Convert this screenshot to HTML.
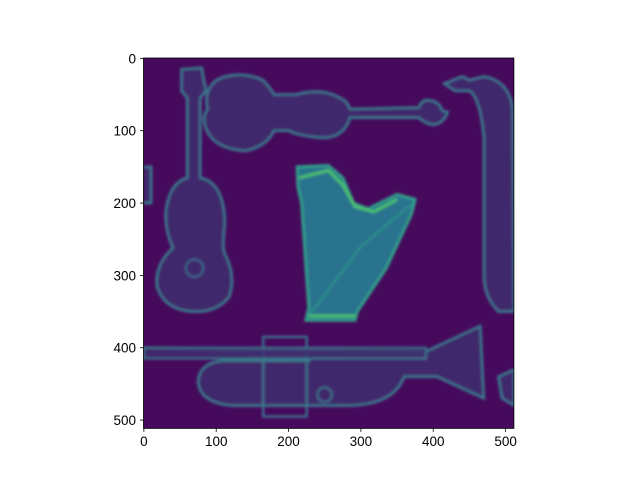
<!DOCTYPE html>
<html><head><meta charset="utf-8"><style>
body{margin:0;background:#fff;}
svg text{font-family:"Liberation Sans","DejaVu Sans",sans-serif;font-size:13.5px;fill:#000;}
</style></head><body>
<svg width="640" height="480" xmlns="http://www.w3.org/2000/svg">
<defs>
<filter id="b" x="-20%" y="-20%" width="140%" height="140%"><feGaussianBlur stdDeviation="1.8"/></filter>
<filter id="b2" x="-50%" y="-50%" width="200%" height="200%"><feGaussianBlur stdDeviation="8"/></filter>
<clipPath id="c"><rect x="-0.5" y="-0.5" width="512" height="512"/></clipPath>
</defs>
<svg x="143.5" y="58" width="370.4" height="370.4" viewBox="-0.5 -0.5 512 512">
<g clip-path="url(#c)">
<rect x="-0.5" y="-0.5" width="512" height="512" fill="#460a5d"/>
<g filter="url(#b)" stroke="#3b7a8d" stroke-width="3.5" fill="#40306f" fill-opacity="0.8">
<path d="M52 15 L80 13 L86 45 L78 55 L78 165 Q112 172 112 230 Q108 262 112 270 Q128 300 118 330 Q100 352 68 350 Q28 348 18 315 Q15 285 40 262 Q30 240 30 215 Q34 172 60 165 L60 55 L52 45 Z"/>
<circle cx="70" cy="290" r="12" fill="none" stroke-width="2.5" stroke="#3a6f8c"/>
<path d="M100 30 Q130 15 165 30 Q178 45 180 50 L210 50 Q250 38 280 60 L285 70 L380 68 Q385 55 395 58 Q410 60 412 72 L420 74 Q415 90 400 92 Q388 90 380 82 L285 82 Q278 108 250 110 Q215 108 200 100 L180 100 Q170 122 140 128 Q95 125 85 95 Q80 80 88 70 Q82 45 100 30 Z"/>
<path d="M415 35 L440 25 L450 30 L470 25 Q505 30 510 70 L512 350 L490 350 Q470 330 470 300 L470 110 Q465 55 450 45 L430 45 Z"/>
<path d="M0 150 L10 150 L10 200 L0 200"/>
<path d="M0 400 L390 405 L465 370 L470 470 L405 440 L360 440 Q345 480 280 480 L120 480 Q75 475 75 445 Q78 420 110 418 L230 418"/>
<rect x="165" y="385" width="60" height="110" fill="none" stroke-width="3"/>
<rect x="0" y="400" width="390" height="15" stroke-width="2.5"/>
<circle cx="250" cy="465" r="10" fill="none" stroke-width="2.5"/>
<path d="M490 440 L512 430 L512 480 L495 470 Z"/>
</g>
<g filter="url(#b)">
<path d="M212 150 L255 148 L275 165 L290 200 L310 208 L350 188 L375 195 L370 215 L335 290 L295 350 L292 362 L224 362 L228 345 L218 200 L213 178 Z" fill="#2a738e" stroke="#30a088" stroke-width="4"/>
<path d="M215 165 L255 155 L275 175 L292 205 L318 212 L350 195" fill="none" stroke="#4ec36b" stroke-width="4"/>
<path d="M226 356 L292 356" stroke="#4ec36b" stroke-width="4"/>
<path d="M225 360 L300 260 L372 200" fill="none" stroke="#2f9a8a" stroke-width="2"/>
</g>
</g>
</svg>
<rect x="143.5" y="58" width="370.4" height="370.4" fill="none" stroke="#000" stroke-width="0.8"/>
<g id="ticks"></g>
</svg>
<script>
const xTicks=[0,100,200,300,400,500];
const yTicks=[0,100,200,300,400,500];
const NS='http://www.w3.org/2000/svg';
const g=document.getElementById('ticks');
const sx=v=>143.5+(v+0.5)*370.4/512;
const sy=v=>58+(v+0.5)*370.4/512;
function mk(t,a){const e=document.createElementNS(NS,t);for(const k in a)e.setAttribute(k,a[k]);g.appendChild(e);return e;}
xTicks.forEach(v=>{const x=sx(v);
const l=mk('line',{x1:x,x2:x,y1:428.4,y2:431.9,stroke:'#000','stroke-width':0.8});


const t=mk('text',{x:x,y:446,'text-anchor':'middle'});t.textContent=v;

});
yTicks.forEach(v=>{const y=sy(v);
const l=mk('line',{x1:140,x2:143.5,y1:y,y2:y,stroke:'#000','stroke-width':0.8});


const t=mk('text',{x:136,y:y+5,'text-anchor':'end'});t.textContent=v;

});
</script>
</body></html>
